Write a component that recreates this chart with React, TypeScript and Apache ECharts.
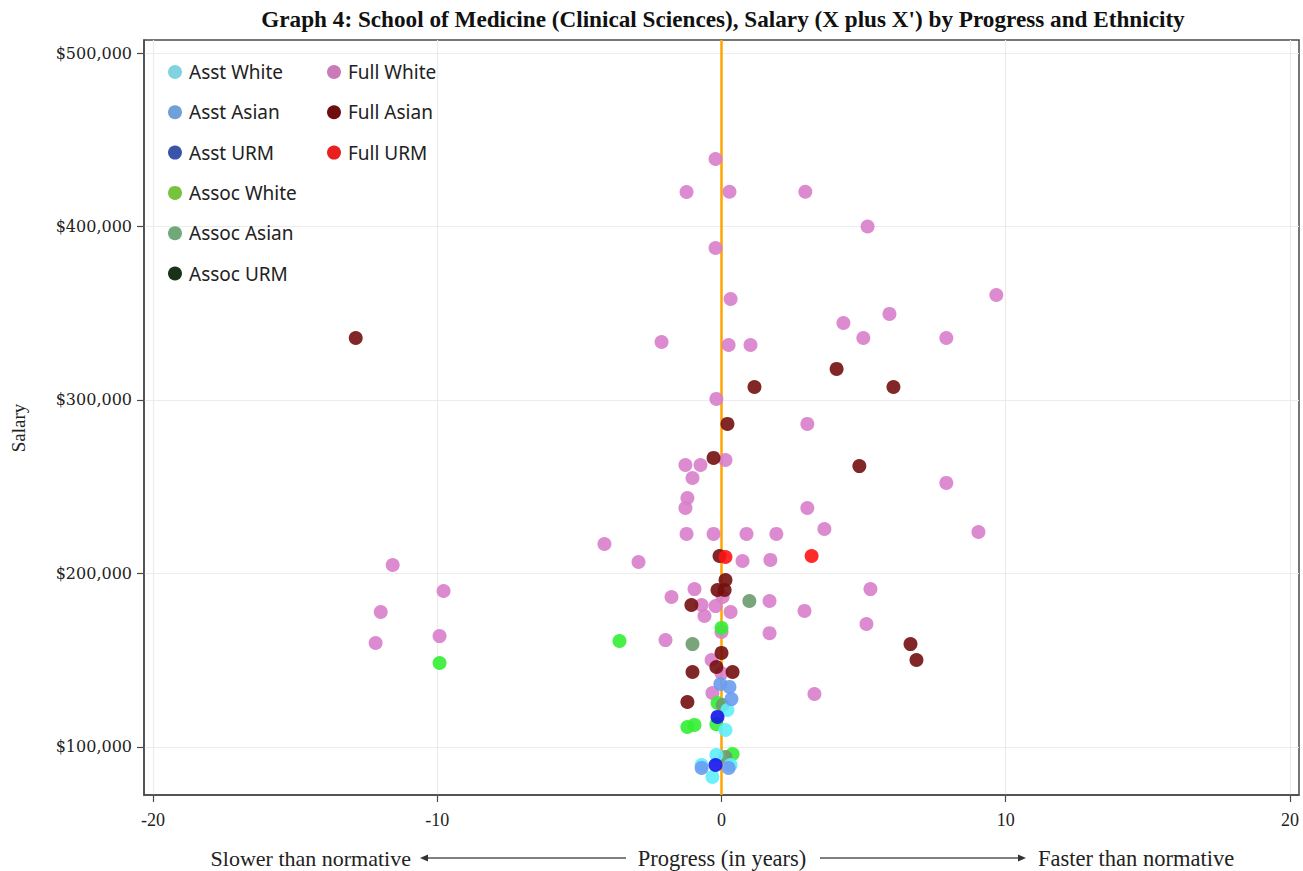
import React, { useEffect, useRef } from "react";
import * as echarts from "echarts";

const seriesNames = [
  "Asst White", "Asst Asian", "Asst URM",
  "Assoc White", "Assoc Asian", "Assoc URM",
  "Full White", "Full Asian", "Full URM",
];

const asstWhite = [[0.21, 121300], [0.14, 109800], [-0.18, 95400], [-0.7, 89600], [0.32, 89600], [-0.32, 82700]];
const asstAsian = [[-0.04, 136300], [0.28, 134600], [0.35, 127600], [-0.7, 87900], [0.25, 87900]];
const asstURM = [[-0.14, 117300], [-0.21, 89600]];
const assocWhite = [[-9.92, 148400], [-3.59, 161100], [0, 168600], [-0.14, 125300], [-0.18, 113100], [-1.2, 111500], [-0.95, 112700], [0.39, 95900]];
const assocAsian = [[0.98, 184100], [-1.02, 159300], [0.04, 124200], [0.14, 94200]];
const assocURM: number[][] = [];
const fullWhite = [
  [-0.21, 438900], [-1.23, 419900], [0.28, 420000], [2.95, 420000], [5.14, 400000],
  [-0.21, 387600], [0.32, 358200], [9.67, 360500], [4.29, 344400], [5.91, 349600],
  [-2.11, 333400], [0.25, 331700], [1.02, 331700], [4.99, 335700], [7.91, 335700],
  [-0.18, 300600], [3.02, 286200], [-1.27, 262500], [-0.74, 262500], [0.14, 265400],
  [-1.02, 255000], [-1.2, 243500], [-1.27, 237700], [3.02, 237700], [7.91, 252200],
  [3.62, 225600], [9.04, 223900], [-1.23, 222800], [-0.28, 222800], [0.88, 222800],
  [1.93, 222800], [-4.12, 217000], [-2.92, 206600], [0.74, 207200], [1.72, 207800],
  [-11.57, 204900], [-9.78, 189900], [5.24, 191000], [-0.95, 191000], [-1.76, 186400],
  [0.04, 186400], [-11.99, 177800], [-0.7, 181800], [-0.21, 181200], [0.32, 177800],
  [-0.6, 175500], [1.69, 184100], [2.92, 178400], [5.1, 170900], [-9.92, 163900],
  [-1.97, 161600], [-12.17, 159900], [1.69, 165600], [0, 166300], [-0.35, 150100],
  [3.27, 130500], [-0.32, 131100], [0, 142500],
];
const fullAsian = [
  [-12.87, 335700], [1.16, 307500], [4.05, 317900], [6.05, 307500], [0.21, 286200],
  [-0.28, 266600], [4.85, 261900], [-0.07, 210100], [0.14, 196200], [-0.14, 190500],
  [0.11, 190500], [-1.06, 181800], [0, 154200], [-0.18, 146100], [-1.02, 143200],
  [0.39, 143200], [-1.2, 125900], [6.65, 159300], [6.86, 150100],
];
const fullURM = [[0.14, 209500], [3.17, 210100]];

const seriesData = [asstWhite, asstAsian, asstURM, assocWhite, assocAsian, assocURM, fullWhite, fullAsian, fullURM];
const markerColors = ["#5eeefa", "#6a9cf0", "#1414ee", "#33ee33", "#6a9a6e", "#1a3a1a", "#d87ecb", "#741010", "#ff1414"];
const legendColors = ["#7fd4e0", "#6fa0d8", "#3a55a8", "#77c43c", "#70a878", "#1a3318", "#c97ab8", "#6e0e10", "#e82020"];
const drawOrder = [6, 7, 8, 3, 4, 5, 0, 1, 2];

const xTicks = [-20, -10, 0, 10, 20];
const yTicks = [100000, 200000, 300000, 400000, 500000];
const xMin = -20.32, xMax = 20.32;
const yMin = 72300, yMax = 507500;

export default function App() {
  const ref = useRef<HTMLDivElement>(null);
  useEffect(() => {
    const chart = echarts.init(ref.current!, null, { renderer: "svg" });
    const serif = "Liberation Serif";
    const legendText = { fontFamily: "Noto Sans", fontSize: 19, color: "#222", lineHeight: 20 };
    const mkLegend = (idx: number[], left: number) => ({
      orient: "vertical",
      left,
      top: 57,
      itemWidth: 18,
      itemHeight: 14,
      itemGap: 20.3,
      icon: "circle",
      selectedMode: false,
      textStyle: legendText,
      data: idx.map((i) => ({ name: seriesNames[i], itemStyle: { color: legendColors[i], opacity: 1 } })),
    });
    const scatter = drawOrder.map((i) => ({
      name: seriesNames[i],
      type: "scatter",
      data: seriesData[i],
      symbolSize: 14,
      itemStyle: { color: markerColors[i], opacity: 0.9 },
      z: 3,
    }));
    chart.setOption({
      animation: false,
      backgroundColor: "#fff",
      grid: {
        left: 144, top: 40, width: 1155, height: 755,
        show: true, borderColor: "#4a4a4a", borderWidth: 1.5, backgroundColor: "#fff",
      },
      legend: [mkLegend([0, 1, 2, 3, 4, 5], 163), mkLegend([6, 7, 8], 322)],
      xAxis: {
        type: "value", min: xMin, max: xMax,
        axisLine: { show: true, onZero: false, lineStyle: { color: "#4a4a4a", width: 1.5 } },
        axisTick: { show: true, customValues: xTicks, length: 7, lineStyle: { color: "#4a4a4a", width: 1.2 } },
        axisLabel: { customValues: xTicks, fontFamily: serif, fontSize: 18, color: "#222", margin: 16 },
        splitLine: { show: true, lineStyle: { color: "#ececec", width: 1.2 } },
      },
      yAxis: {
        type: "value", min: yMin, max: yMax,
        axisLine: { show: true, onZero: false, lineStyle: { color: "#4a4a4a", width: 1.5 } },
        axisTick: { show: true, customValues: yTicks, length: 7, lineStyle: { color: "#4a4a4a", width: 1.2 } },
        axisLabel: {
          customValues: yTicks, fontFamily: "DejaVu Serif", fontSize: 16, color: "#222", margin: 12,
          formatter: (v: number) => "$" + v.toLocaleString("en-US"),
        },
        splitLine: { show: true, lineStyle: { color: "#ececec", width: 1.2 } },
      },
      series: [
        {
          type: "line",
          data: [[0, yMin], [0, yMax]],
          symbol: "none",
          silent: true,
          lineStyle: { color: "#ffa500", width: 2.5 },
          z: 2,
          legendHoverLink: false,
        },
        ...scatter,
      ],
      graphic: [
        {
          type: "text", x: 723, y: 19,
          style: { text: "Graph 4: School of Medicine (Clinical Sciences), Salary (X plus X') by Progress and Ethnicity", fontFamily: serif, fontWeight: "bold", fontSize: 23.2, fill: "#111", textAlign: "center", textVerticalAlign: "middle" },
        },
        {
          type: "text", x: 18, y: 428, rotation: Math.PI / 2,
          style: { text: "Salary", fontFamily: serif, fontSize: 19, fill: "#222", textAlign: "center", textVerticalAlign: "middle" },
        },
        {
          type: "text", x: 411, y: 858,
          style: { text: "Slower than normative", fontFamily: serif, fontSize: 22, fill: "#222", textAlign: "right", textVerticalAlign: "middle" },
        },
        {
          type: "text", x: 722, y: 858,
          style: { text: "Progress (in years)", fontFamily: serif, fontSize: 22.5, fill: "#222", textAlign: "center", textVerticalAlign: "middle" },
        },
        {
          type: "text", x: 1038, y: 858,
          style: { text: "Faster than normative", fontFamily: serif, fontSize: 22.5, fill: "#222", textAlign: "left", textVerticalAlign: "middle" },
        },
        { type: "line", shape: { x1: 426, y1: 858, x2: 626, y2: 858 }, style: { stroke: "#555", lineWidth: 1.5 } },
        { type: "polygon", shape: { points: [[420, 858], [428, 854.5], [428, 861.5]] }, style: { fill: "#333" } },
        { type: "line", shape: { x1: 820, y1: 858, x2: 1020, y2: 858 }, style: { stroke: "#555", lineWidth: 1.5 } },
        { type: "polygon", shape: { points: [[1026, 858], [1018, 854.5], [1018, 861.5]] }, style: { fill: "#333" } },
      ],
    });
    return () => chart.dispose();
  }, []);
  return <div ref={ref} style={{ position: "fixed", left: 0, top: 0, width: 1303, height: 871 }} />;
}
